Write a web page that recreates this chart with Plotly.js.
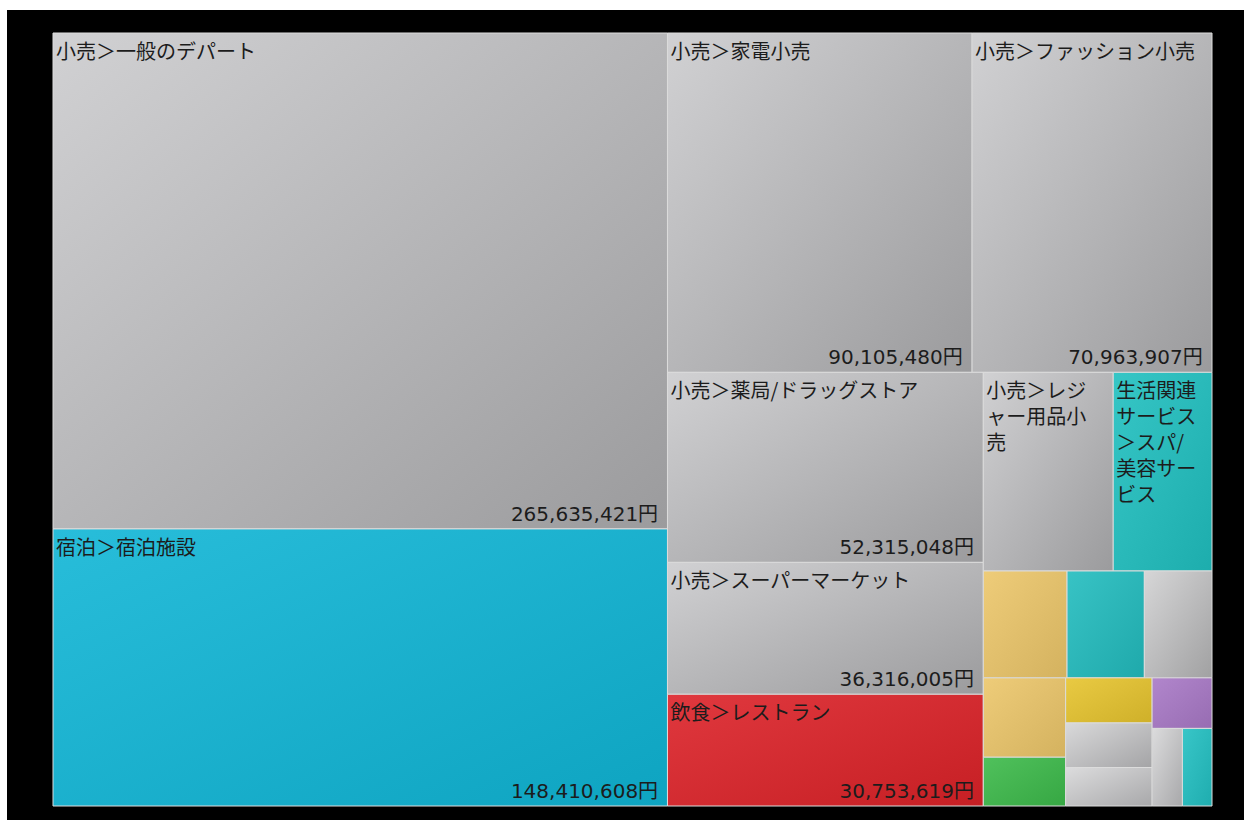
<!DOCTYPE html>
<html><head><meta charset="utf-8">
<script src="https://cdn.plot.ly/plotly-3.0.1.min.js"></script>
<style>
html,body{margin:0;padding:0;background:#fff;width:1244px;height:823px;overflow:hidden}
#chart{position:absolute;left:7px;top:10px;width:1237px;height:810px}
</style>
</head><body><div id="chart"></div>
<script>
// Category names (ids)
const categories = [
  "小売＞一般のデパート",
  "宿泊＞宿泊施設",
  "小売＞家電小売",
  "小売＞ファッション小売",
  "小売＞薬局/ドラッグストア",
  "小売＞スーパーマーケット",
  "飲食＞レストラン",
  "小売＞レジャー用品小売",
  "生活関連サービス＞スパ/美容サービス",
  "その他1", "その他2", "その他3", "その他4", "その他5", "その他6",
  "その他7", "その他8", "その他9", "その他10", "その他11"
];
// Text shown at the top-left of each tile ('' = none)
const tileLabels = [
  "小売＞一般のデパート",
  "宿泊＞宿泊施設",
  "小売＞家電小売",
  "小売＞ファッション小売",
  "小売＞薬局/ドラッグストア",
  "小売＞スーパーマーケット",
  "飲食＞レストラン",
  "小売＞レジ<br>ャー用品小<br>売",
  "生活関連<br>サービス<br>＞スパ/<br>美容サー<br>ビス",
  "", "", "", "", "", "", "", "", "", "", ""
];
// Sales values (円)
const values = [
  265635421, 148410608, 90105480, 70963907, 52315048, 36316005, 30753619,
  22500000, 17100000,
  7800000, 7200000, 6300000, 5700000, 3500000, 3400000, 3360000, 2900000, 2640000, 2050000, 2000000
];
// Whether the value is printed in the tile
const showValue = [true, true, true, true, true, true, true,
  false, false, false, false, false, false, false, false, false, false, false, false, false];
// Tile colours
const colors = [
  "#bdbdc0", "#10b6d6", "#bdbdc0", "#bdbdc0", "#bdbdc0", "#bdbdc0", "#dc2228",
  "#bdbdc0", "#20c0c0",
  "#ecc66a", "#22bcbe", "#c4c4c6", "#ecc66a", "#3cba4a", "#e6c42e", "#c8c8ca", "#cdcdcf", "#a878c6", "#cdcdcf", "#22c0c2"
];

const parents = categories.map(() => "");
const labelFont = {family: '"Noto Sans CJK JP", "Noto Sans", sans-serif', size: 20, color: '#1c1c1c'};
const valueFont = {family: '"DejaVu Sans", "Noto Sans CJK JP", sans-serif', size: 20, color: '#1c1c1c'};

const labelTrace = {
  type: 'treemap',
  ids: categories,
  labels: categories,
  parents: parents,
  values: values,
  text: tileLabels,
  texttemplate: '%{text}',
  textposition: 'top left',
  textfont: labelFont,
  marker: {colors: colors, line: {width: 1, color: '#dcdcdc'}, pad: {t: 0, l: 0, r: 0, b: 0}},
  tiling: {packing: 'squarify', squarifyratio: 1.618, pad: 0},
  pathbar: {visible: false},
  sort: true,
  hovertemplate: '%{label}<br>%{value:,}円<extra></extra>'
};

const valueTrace = {
  type: 'treemap',
  ids: categories,
  labels: categories,
  parents: parents,
  values: values,
  texttemplate: showValue.map(s => s ? '%{value:,}円\u00a0' : ''),
  textposition: 'bottom right',
  textfont: valueFont,
  marker: {colors: categories.map(() => 'rgba(0,0,0,0)'), line: {width: 0}, pad: {t: 0, l: 0, r: 0, b: 0}},
  tiling: {packing: 'squarify', squarifyratio: 1.618, pad: 0},
  pathbar: {visible: false},
  sort: true,
  hoverinfo: 'skip'
};

const layout = {
  width: 1237, height: 810,
  paper_bgcolor: '#000000',
  plot_bgcolor: '#000000',
  margin: {l: 46, r: 32, t: 23, b: 14},
  showlegend: false
};

function mix(rgb, target, t) {
  return rgb.map((c, i) => Math.round(c + (target[i] - c) * t));
}
function parseColor(s) {
  const m = s.match(/rgba?\(([^)]+)\)/);
  if (!m) return null;
  const p = m[1].split(',').map(v => parseFloat(v));
  if (p.length > 3 && p[3] === 0) return null;
  return p.slice(0, 3);
}

Plotly.newPlot('chart', [labelTrace, valueTrace], layout, {displayModeBar: false, staticPlot: true}).then(gd => {
  // soft diagonal shading on the tiles (first trace only)
  const svg = gd.querySelector('svg.main-svg');
  const ns = 'http://www.w3.org/2000/svg';
  let defs = svg.querySelector('defs');
  if (!defs) { defs = document.createElementNS(ns, 'defs'); svg.insertBefore(defs, svg.firstChild); }
  const traceGroups = gd.querySelectorAll('g.trace.treemap');
  if (!traceGroups.length) return;
  const paths = traceGroups[0].querySelectorAll('path.surface');
  paths.forEach((p, k) => {
    const rgb = parseColor(getComputedStyle(p).fill || p.style.fill);
    if (!rgb) return;
    const grey = Math.max(...rgb) - Math.min(...rgb) < 20;
    const id = 'tileGrad' + k;
    const g = document.createElementNS(ns, 'linearGradient');
    g.setAttribute('id', id);
    g.setAttribute('x1', '0'); g.setAttribute('y1', '0');
    g.setAttribute('x2', '1'); g.setAttribute('y2', '1');
    const a = mix(rgb, [255, 255, 255], grey ? 0.3 : 0.1);
    const b = mix(rgb, [0, 0, 0], grey ? 0.18 : 0.1);
    [[0, a], [1, b]].forEach(([off, c]) => {
      const s = document.createElementNS(ns, 'stop');
      s.setAttribute('offset', off);
      s.setAttribute('stop-color', 'rgb(' + c.join(',') + ')');
      g.appendChild(s);
    });
    defs.appendChild(g);
    p.style.fill = 'url(#' + id + ')';
  });
});
</script>
</body></html>
